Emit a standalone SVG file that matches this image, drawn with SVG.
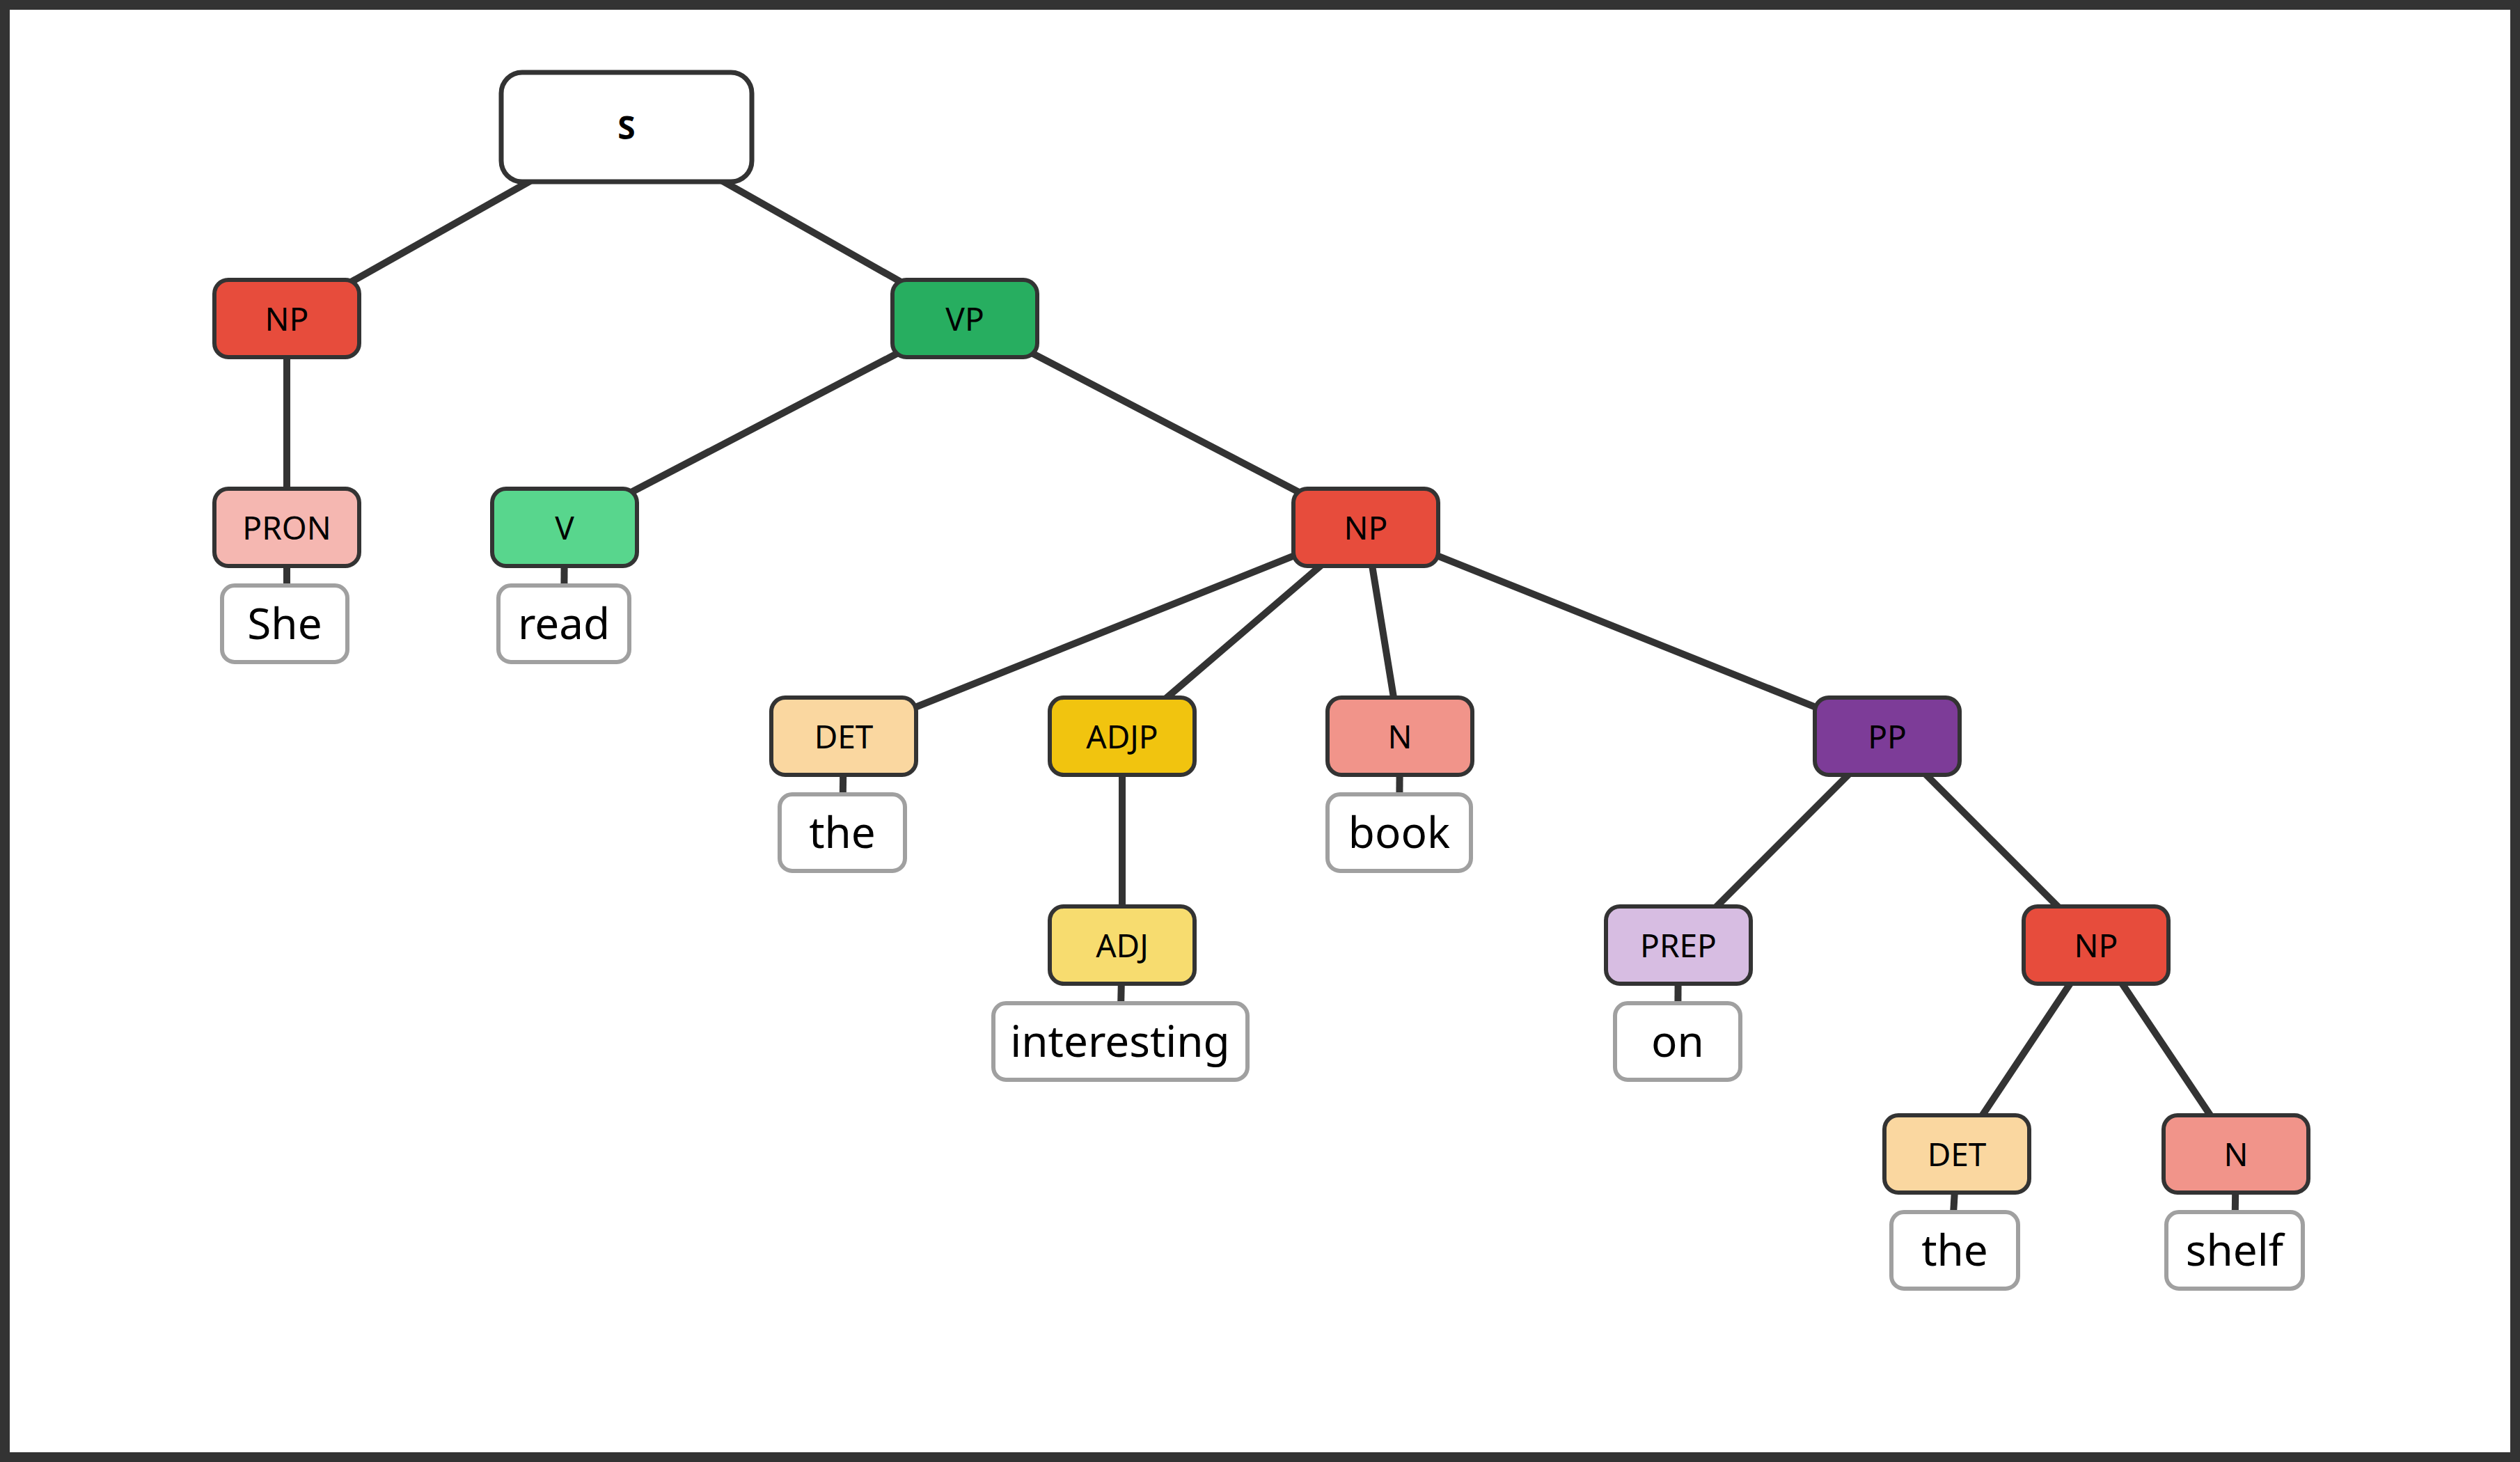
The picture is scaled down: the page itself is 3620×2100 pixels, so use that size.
<svg xmlns="http://www.w3.org/2000/svg" width="3620" height="2100" viewBox="0 0 3620 2100">
<style>
.c{stroke:#333;stroke-width:6}
.w{fill:#fff;stroke:#a0a0a0;stroke-width:6}
.t{font-family:"Noto Sans","Open Sans",sans-serif;font-size:46px;text-anchor:middle;dominant-baseline:central;fill:#000}
.wt{font-family:"Noto Sans","Open Sans",sans-serif;font-size:62px;text-anchor:middle;dominant-baseline:central;fill:#000}
#edges line{stroke:#333;stroke-width:10}
</style>
<rect x="0" y="0" width="3620" height="2100" fill="#fff"/>
<rect x="7" y="7" width="3606" height="2086" fill="none" stroke="#333" stroke-width="14"/>
<g id="edges">
<line x1="900" y1="182" x2="412" y2="457"/>
<line x1="900" y1="182" x2="1386" y2="457"/>
<line x1="412" y1="457" x2="412" y2="757"/>
<line x1="412" y1="757" x2="412" y2="896"/>
<line x1="1386" y1="457" x2="811" y2="757"/>
<line x1="1386" y1="457" x2="1962" y2="757"/>
<line x1="811" y1="757" x2="810" y2="896"/>
<line x1="1962" y1="757" x2="1212" y2="1057"/>
<line x1="1962" y1="757" x2="1612" y2="1057"/>
<line x1="1962" y1="757" x2="2011" y2="1057"/>
<line x1="1962" y1="757" x2="2711" y2="1057"/>
<line x1="1212" y1="1057" x2="1210" y2="1196"/>
<line x1="1612" y1="1057" x2="1612" y2="1357"/>
<line x1="1612" y1="1357" x2="1609" y2="1496"/>
<line x1="2011" y1="1057" x2="2010" y2="1196"/>
<line x1="2711" y1="1057" x2="2411" y2="1357"/>
<line x1="2711" y1="1057" x2="3011" y2="1357"/>
<line x1="2411" y1="1357" x2="2410" y2="1496"/>
<line x1="3011" y1="1357" x2="2811" y2="1657"/>
<line x1="3011" y1="1357" x2="3212" y2="1657"/>
<line x1="2811" y1="1657" x2="2803" y2="1796"/>
<line x1="3212" y1="1657" x2="3210" y2="1796"/>
</g>
<g id="S"><rect x="720" y="104" width="360" height="157" rx="30" fill="#fff" stroke="#333" stroke-width="7"/><text class="t" x="900" y="182" font-weight="bold" font-size="56">S</text></g>
<g id="NP1"><rect class="c" x="308" y="402" width="208" height="111" rx="20" fill="#E74C3C"/><text class="t" x="412" y="457">NP</text></g>
<g id="VP"><rect class="c" x="1282" y="402" width="208" height="111" rx="20" fill="#27AE60"/><text class="t" x="1386" y="457">VP</text></g>
<g id="PRON"><rect class="c" x="308" y="702" width="208" height="111" rx="20" fill="#F5B7B1"/><text class="t" x="412" y="757">PRON</text></g>
<g id="V"><rect class="c" x="707" y="702" width="208" height="111" rx="20" fill="#58D68D"/><text class="t" x="811" y="757">V</text></g>
<g id="NP2"><rect class="c" x="1858" y="702" width="208" height="111" rx="20" fill="#E74C3C"/><text class="t" x="1962" y="757">NP</text></g>
<g id="DET1"><rect class="c" x="1108" y="1002" width="208" height="111" rx="20" fill="#FAD7A0"/><text class="t" x="1212" y="1057">DET</text></g>
<g id="ADJP"><rect class="c" x="1508" y="1002" width="208" height="111" rx="20" fill="#F1C40F"/><text class="t" x="1612" y="1057">ADJP</text></g>
<g id="N1"><rect class="c" x="1907" y="1002" width="208" height="111" rx="20" fill="#F1948A"/><text class="t" x="2011" y="1057">N</text></g>
<g id="PP"><rect class="c" x="2607" y="1002" width="208" height="111" rx="20" fill="#7D3C98"/><text class="t" x="2711" y="1057">PP</text></g>
<g id="ADJ"><rect class="c" x="1508" y="1302" width="208" height="111" rx="20" fill="#F7DC6F"/><text class="t" x="1612" y="1357">ADJ</text></g>
<g id="PREP"><rect class="c" x="2307" y="1302" width="208" height="111" rx="20" fill="#D7BDE2"/><text class="t" x="2411" y="1357">PREP</text></g>
<g id="NP3"><rect class="c" x="2907" y="1302" width="208" height="111" rx="20" fill="#E74C3C"/><text class="t" x="3011" y="1357">NP</text></g>
<g id="DET2"><rect class="c" x="2707" y="1602" width="208" height="111" rx="20" fill="#FAD7A0"/><text class="t" x="2811" y="1657">DET</text></g>
<g id="N2"><rect class="c" x="3108" y="1602" width="208" height="111" rx="20" fill="#F1948A"/><text class="t" x="3212" y="1657">N</text></g>
<g id="w_she"><rect class="w" x="319" y="841" width="180" height="110" rx="18"/><text class="wt" x="409" y="894">She</text></g>
<g id="w_read"><rect class="w" x="716" y="841" width="188" height="110" rx="18"/><text class="wt" x="810" y="894">read</text></g>
<g id="w_the1"><rect class="w" x="1120" y="1141" width="180" height="110" rx="18"/><text class="wt" x="1210" y="1194">the</text></g>
<g id="w_book"><rect class="w" x="1907" y="1141" width="206" height="110" rx="18"/><text class="wt" x="2010" y="1194">book</text></g>
<g id="w_interesting"><rect class="w" x="1427" y="1441" width="365" height="110" rx="18"/><text class="wt" x="1609" y="1494">interesting</text></g>
<g id="w_on"><rect class="w" x="2320" y="1441" width="180" height="110" rx="18"/><text class="wt" x="2410" y="1494">on</text></g>
<g id="w_the2"><rect class="w" x="2717" y="1741" width="182" height="110" rx="18"/><text class="wt" x="2808" y="1794">the</text></g>
<g id="w_shelf"><rect class="w" x="3112" y="1741" width="196" height="110" rx="18"/><text class="wt" x="3210" y="1794">shelf</text></g>
</svg>
